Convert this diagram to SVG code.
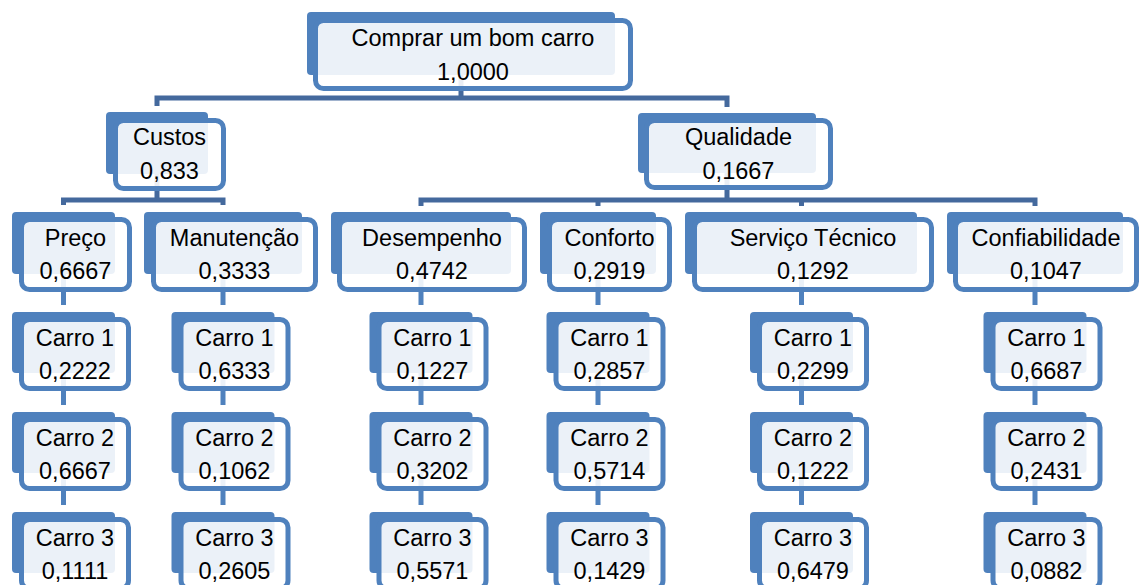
<svg xmlns="http://www.w3.org/2000/svg" width="1140" height="585" viewBox="0 0 1140 585">
<style>
.bk{fill:#4F81BD}
.fr{fill:#FFFFFF;fill-opacity:0.89;stroke:#4F81BD;stroke-width:5}
.t{font-family:"Liberation Sans",Arial,sans-serif;font-size:23.5px;fill:#000;text-anchor:middle}
.h{fill:none;stroke:#44699D;stroke-width:5;stroke-linejoin:miter}
.v{fill:none;stroke:#4F81BD;stroke-width:5}
</style>
<rect width="1140" height="585" fill="#FFFFFF"/>
<g id="connectors">
<path class="h" d="M461 75V98M157 106V98H727V107"/>
<path class="h" d="M157 174V200M63.5 205V200H223V205"/>
<path class="h" d="M727 173V200M421 206V200H1035V206M598 200V206M801.5 200V206"/>
<path class="v" d="M63.5 274V305M63.5 373V405M63.5 473V505"/>
<path class="v" d="M223 274V305M223 373V405M223 473V505"/>
<path class="v" d="M421 274V305M421 373V405M421 473V505"/>
<path class="v" d="M598 274V305M598 373V405M598 473V505"/>
<path class="v" d="M801.5 274V305M801.5 373V405M801.5 473V505"/>
<path class="v" d="M1035 274V305M1035 373V405M1035 473V505"/>
</g>
<g id="n-root"><rect class="bk" x="307" y="12" width="308" height="63" rx="4"/><rect class="fr" x="315.5" y="20.5" width="315" height="68" rx="8"/><text class="t" x="473" y="46">Comprar um bom carro</text><text class="t" x="473" y="80">1,0000</text></g>
<g id="n-custos"><rect class="bk" x="106" y="112" width="102" height="62" rx="4"/><rect class="fr" x="115.5" y="120.5" width="108" height="68" rx="8"/><text class="t" x="169.5" y="145">Custos</text><text class="t" x="169.5" y="179">0,833</text></g>
<g id="n-qualidade"><rect class="bk" x="638" y="113" width="178" height="60" rx="4"/><rect class="fr" x="646.5" y="120.5" width="184" height="67" rx="8"/><text class="t" x="738.5" y="145">Qualidade</text><text class="t" x="738.5" y="179">0,1667</text></g>
<g id="n-preco"><rect class="bk" x="12" y="212" width="103" height="62" rx="4"/><rect class="fr" x="21.5" y="219.5" width="108" height="70" rx="8"/><text class="t" x="75.5" y="246">Preço</text><text class="t" x="75.5" y="279">0,6667</text></g>
<g id="n-manutencao"><rect class="bk" x="144" y="212" width="158" height="62" rx="4"/><rect class="fr" x="153.5" y="219.5" width="162" height="70" rx="8"/><text class="t" x="234.5" y="246">Manutenção</text><text class="t" x="234.5" y="279">0,3333</text></g>
<g id="n-desempenho"><rect class="bk" x="331" y="212" width="180" height="62" rx="4"/><rect class="fr" x="339.5" y="219.5" width="185" height="70" rx="8"/><text class="t" x="432" y="246">Desempenho</text><text class="t" x="432" y="279">0,4742</text></g>
<g id="n-conforto"><rect class="bk" x="540" y="212" width="116" height="62" rx="4"/><rect class="fr" x="549.5" y="219.5" width="120" height="70" rx="8"/><text class="t" x="609.5" y="246">Conforto</text><text class="t" x="609.5" y="279">0,2919</text></g>
<g id="n-servico"><rect class="bk" x="685" y="212" width="232" height="62" rx="4"/><rect class="fr" x="694.5" y="219.5" width="237" height="70" rx="8"/><text class="t" x="813" y="246">Serviço Técnico</text><text class="t" x="813" y="279">0,1292</text></g>
<g id="n-confiabilidade"><rect class="bk" x="947" y="212" width="176" height="62" rx="4"/><rect class="fr" x="955.5" y="219.5" width="181" height="70" rx="8"/><text class="t" x="1046" y="246">Confiabilidade</text><text class="t" x="1046" y="279">0,1047</text></g>

<g id="n-preco-c1"><rect class="bk" x="12" y="312" width="103" height="61" rx="4"/><rect class="fr" x="21.5" y="319.5" width="107" height="69" rx="8"/><text class="t" x="75" y="346">Carro 1</text><text class="t" x="75" y="379">0,2222</text></g>
<g id="n-preco-c2"><rect class="bk" x="12" y="412" width="103" height="61" rx="4"/><rect class="fr" x="21.5" y="419.5" width="107" height="69" rx="8"/><text class="t" x="75" y="446">Carro 2</text><text class="t" x="75" y="479">0,6667</text></g>
<g id="n-preco-c3"><rect class="bk" x="12" y="512" width="103" height="61" rx="4"/><rect class="fr" x="21.5" y="519.5" width="107" height="69" rx="8"/><text class="t" x="75" y="546">Carro 3</text><text class="t" x="75" y="579">0,1111</text></g>

<g id="n-man-c1"><rect class="bk" x="171.5" y="312" width="103" height="61" rx="4"/><rect class="fr" x="181" y="319.5" width="107" height="69" rx="8"/><text class="t" x="234.5" y="346">Carro 1</text><text class="t" x="234.5" y="379">0,6333</text></g>
<g id="n-man-c2"><rect class="bk" x="171.5" y="412" width="103" height="61" rx="4"/><rect class="fr" x="181" y="419.5" width="107" height="69" rx="8"/><text class="t" x="234.5" y="446">Carro 2</text><text class="t" x="234.5" y="479">0,1062</text></g>
<g id="n-man-c3"><rect class="bk" x="171.5" y="512" width="103" height="61" rx="4"/><rect class="fr" x="181" y="519.5" width="107" height="69" rx="8"/><text class="t" x="234.5" y="546">Carro 3</text><text class="t" x="234.5" y="579">0,2605</text></g>

<g id="n-des-c1"><rect class="bk" x="369.5" y="312" width="103" height="61" rx="4"/><rect class="fr" x="379" y="319.5" width="107" height="69" rx="8"/><text class="t" x="432.5" y="346">Carro 1</text><text class="t" x="432.5" y="379">0,1227</text></g>
<g id="n-des-c2"><rect class="bk" x="369.5" y="412" width="103" height="61" rx="4"/><rect class="fr" x="379" y="419.5" width="107" height="69" rx="8"/><text class="t" x="432.5" y="446">Carro 2</text><text class="t" x="432.5" y="479">0,3202</text></g>
<g id="n-des-c3"><rect class="bk" x="369.5" y="512" width="103" height="61" rx="4"/><rect class="fr" x="379" y="519.5" width="107" height="69" rx="8"/><text class="t" x="432.5" y="546">Carro 3</text><text class="t" x="432.5" y="579">0,5571</text></g>

<g id="n-con-c1"><rect class="bk" x="546.5" y="312" width="103" height="61" rx="4"/><rect class="fr" x="556" y="319.5" width="107" height="69" rx="8"/><text class="t" x="609.5" y="346">Carro 1</text><text class="t" x="609.5" y="379">0,2857</text></g>
<g id="n-con-c2"><rect class="bk" x="546.5" y="412" width="103" height="61" rx="4"/><rect class="fr" x="556" y="419.5" width="107" height="69" rx="8"/><text class="t" x="609.5" y="446">Carro 2</text><text class="t" x="609.5" y="479">0,5714</text></g>
<g id="n-con-c3"><rect class="bk" x="546.5" y="512" width="103" height="61" rx="4"/><rect class="fr" x="556" y="519.5" width="107" height="69" rx="8"/><text class="t" x="609.5" y="546">Carro 3</text><text class="t" x="609.5" y="579">0,1429</text></g>

<g id="n-ser-c1"><rect class="bk" x="750" y="312" width="103" height="61" rx="4"/><rect class="fr" x="759.5" y="319.5" width="107" height="69" rx="8"/><text class="t" x="813" y="346">Carro 1</text><text class="t" x="813" y="379">0,2299</text></g>
<g id="n-ser-c2"><rect class="bk" x="750" y="412" width="103" height="61" rx="4"/><rect class="fr" x="759.5" y="419.5" width="107" height="69" rx="8"/><text class="t" x="813" y="446">Carro 2</text><text class="t" x="813" y="479">0,1222</text></g>
<g id="n-ser-c3"><rect class="bk" x="750" y="512" width="103" height="61" rx="4"/><rect class="fr" x="759.5" y="519.5" width="107" height="69" rx="8"/><text class="t" x="813" y="546">Carro 3</text><text class="t" x="813" y="579">0,6479</text></g>

<g id="n-cnf-c1"><rect class="bk" x="983.5" y="312" width="103" height="61" rx="4"/><rect class="fr" x="993" y="319.5" width="107" height="69" rx="8"/><text class="t" x="1046.5" y="346">Carro 1</text><text class="t" x="1046.5" y="379">0,6687</text></g>
<g id="n-cnf-c2"><rect class="bk" x="983.5" y="412" width="103" height="61" rx="4"/><rect class="fr" x="993" y="419.5" width="107" height="69" rx="8"/><text class="t" x="1046.5" y="446">Carro 2</text><text class="t" x="1046.5" y="479">0,2431</text></g>
<g id="n-cnf-c3"><rect class="bk" x="983.5" y="512" width="103" height="61" rx="4"/><rect class="fr" x="993" y="519.5" width="107" height="69" rx="8"/><text class="t" x="1046.5" y="546">Carro 3</text><text class="t" x="1046.5" y="579">0,0882</text></g>
</svg>
